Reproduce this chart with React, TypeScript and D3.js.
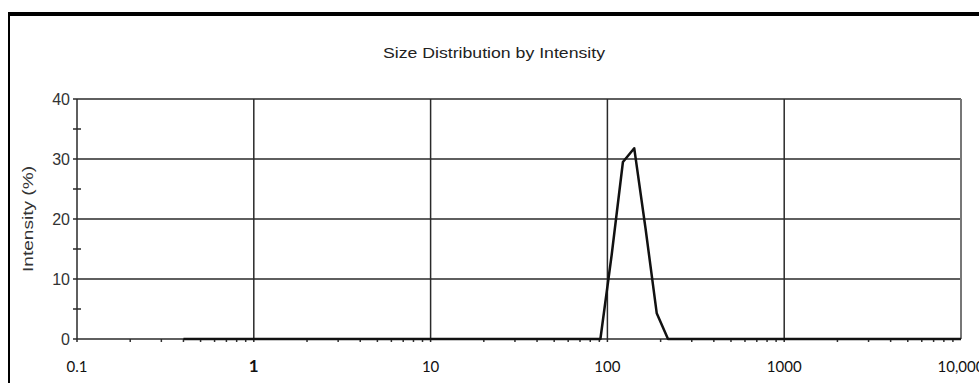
import React, { useEffect, useRef } from 'react';
import * as d3 from 'd3';

// Size (d.nm) bins and intensity (%)
const sizes = [0.4, 91.28, 105.7, 122.4, 141.8, 164.2, 190.1, 220.2, 10000];
const intensity = [0, 0, 14, 29.5, 31.8, 18.5, 4.3, 0, 0];

const xTickValues = [0.1, 1, 10, 100, 1000, 10000];
const xTickLabels = ['0.1', '1', '10', '100', '1000', '10,000'];
const yTickValues = [0, 10, 20, 30, 40];
const yMinorTicks = [5, 15, 25, 35];

const title = 'Size Distribution by Intensity';
const yLabel = 'Intensity (%)';

const App: React.FC = () => {
  const svgRef = useRef<SVGSVGElement>(null);
  const width = 979;
  const height = 383;

  useEffect(() => {
    if (!svgRef.current) return;
    const svg = d3.select(svgRef.current);
    svg.selectAll('*').remove();

    const margin = { top: 99, right: 18, bottom: 44, left: 77 };
    const innerWidth = width - margin.left - margin.right;
    const innerHeight = height - margin.top - margin.bottom;

    // Outer frame (top and left edges only)
    svg.append('rect').attr('width', width).attr('height', height).attr('fill', '#fff');
    svg.append('line')
      .attr('x1', 8).attr('x2', width).attr('y1', 14).attr('y2', 14)
      .attr('stroke', '#000').attr('stroke-width', 4);
    svg.append('line')
      .attr('x1', 9).attr('x2', 9).attr('y1', 12).attr('y2', height)
      .attr('stroke', '#000').attr('stroke-width', 2);

    svg.append('text')
      .attr('x', 494)
      .attr('y', 58)
      .attr('text-anchor', 'middle')
      .attr('font-family', '"Liberation Sans", Arial, sans-serif')
      .attr('font-size', '15px')
      .attr('textLength', 222)
      .attr('lengthAdjust', 'spacingAndGlyphs')
      .attr('fill', '#222')
      .text(title);

    const g = svg.append('g').attr('transform', `translate(${margin.left},${margin.top})`);

    const xScale = d3.scaleLog().domain([0.1, 10000]).range([0, innerWidth]);
    const yScale = d3.scaleLinear().domain([0, 40]).range([innerHeight, 0]);

    // Minor x ticks
    const minorX: number[] = [];
    [0.1, 1, 10, 100, 1000].forEach(d => {
      for (let k = 2; k <= 9; k++) minorX.push(d * k);
    });
    g.selectAll('.minor-x')
      .data(minorX)
      .join('line')
      .attr('x1', d => xScale(d)).attr('x2', d => xScale(d))
      .attr('y1', innerHeight).attr('y2', innerHeight + 3)
      .attr('stroke', '#333').attr('stroke-width', 1.5);

    // Horizontal gridlines + major y ticks
    g.selectAll('.grid-y')
      .data(yTickValues)
      .join('line')
      .attr('x1', -4).attr('x2', innerWidth)
      .attr('y1', d => yScale(d)).attr('y2', d => yScale(d))
      .attr('stroke', '#2a2a2a').attr('stroke-width', 1.5);

    g.selectAll('.minor-y')
      .data(yMinorTicks)
      .join('line')
      .attr('x1', -4).attr('x2', 4)
      .attr('y1', d => yScale(d)).attr('y2', d => yScale(d))
      .attr('stroke', '#2a2a2a').attr('stroke-width', 1.5);

    // Vertical gridlines
    g.selectAll('.grid-x')
      .data(xTickValues.slice(0, -1))
      .join('line')
      .attr('x1', d => xScale(d)).attr('x2', d => xScale(d))
      .attr('y1', 0).attr('y2', innerHeight + 3)
      .attr('stroke', '#2a2a2a').attr('stroke-width', 1.5);

    // Right border
    g.append('line')
      .attr('x1', innerWidth).attr('x2', innerWidth)
      .attr('y1', 0).attr('y2', innerHeight)
      .attr('stroke', '#777').attr('stroke-width', 2);

    // Y tick labels
    g.selectAll('.y-label')
      .data(yTickValues)
      .join('text')
      .attr('x', -7)
      .attr('y', d => yScale(d) + 5.5)
      .attr('text-anchor', 'end')
      .attr('font-family', '"Liberation Sans", Arial, sans-serif')
      .attr('font-size', '16px')
      .attr('fill', '#333')
      .text(d => String(d));

    // X tick labels
    g.selectAll('.x-label')
      .data(xTickValues)
      .join('text')
      .attr('x', d => xScale(d))
      .attr('y', innerHeight + 33)
      .attr('text-anchor', 'middle')
      .attr('font-family', 'Lato, "Open Sans", sans-serif')
      .attr('font-size', (d, i) => (i === 1 ? '17px' : '15px'))
      .attr('font-weight', (d, i) => (i === 1 ? 'bold' : 'normal'))
      .attr('fill', '#111')
      .text((d, i) => xTickLabels[i]);

    // Y axis title
    g.append('text')
      .attr('transform', 'rotate(-90)')
      .attr('x', -(yScale(20)))
      .attr('y', -44)
      .attr('text-anchor', 'middle')
      .attr('font-family', '"Liberation Sans", Arial, sans-serif')
      .attr('font-size', '14px')
      .attr('textLength', 106)
      .attr('lengthAdjust', 'spacingAndGlyphs')
      .attr('fill', '#333')
      .text(yLabel);

    // Data line
    const line = d3
      .line<number>()
      .x((d, i) => xScale(sizes[i]))
      .y(d => yScale(d));

    g.append('path')
      .datum(intensity)
      .attr('fill', 'none')
      .attr('stroke', '#111')
      .attr('stroke-width', 2.5)
      .attr('stroke-linejoin', 'round')
      .attr('d', line);
  }, []);

  return (
    <svg
      ref={svgRef}
      width={width}
      height={height}
      style={{ position: 'absolute', left: 0, top: 0 }}
    />
  );
};

export default App;
